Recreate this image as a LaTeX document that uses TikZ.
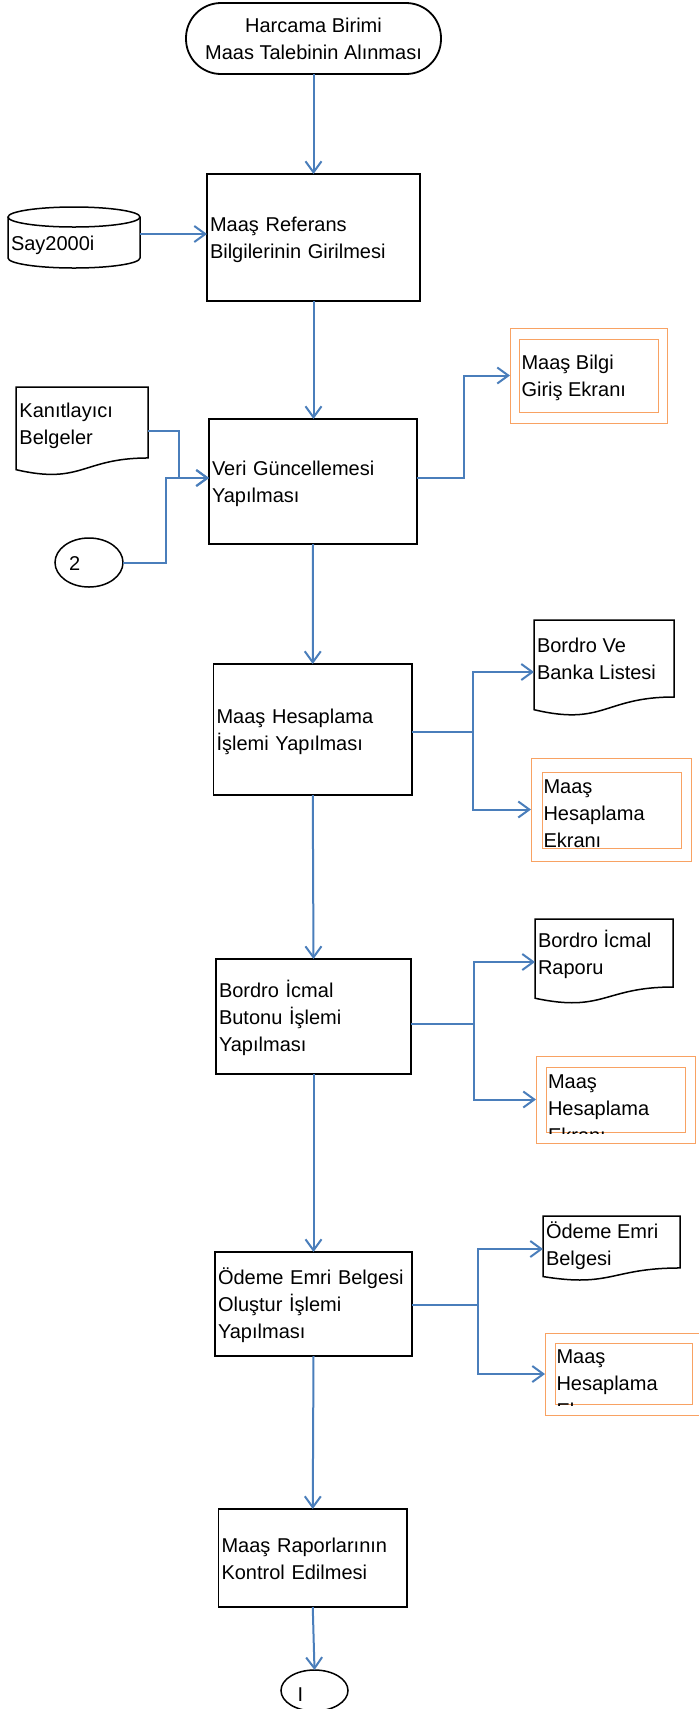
\documentclass[tikz,border=0pt]{standalone}
\usepackage{fontspec}
\setmainfont{Liberation Sans}
\usetikzlibrary{arrows.meta,shapes.geometric}
\definecolor{blueln}{HTML}{4A7EBB}
\definecolor{orng}{HTML}{F8A263}
\newcommand\mytop{\rule{0pt}{20pt}}
\newcommand\mybot{\rule[-4.5pt]{0pt}{4.5pt}}
\newcommand\docpath[4]{%
  \draw[shp] (#1,#2) -- (#3,#2) -- (#3,{#2+0.802*#4})
    .. controls ({(#1+#3)/2},{#2+0.802*#4}) and ({(#1+#3)/2},{#2+1.108*#4}) .. (#1,{#2+0.934*#4}) -- cycle;}
\begin{document}
\begin{tikzpicture}[x=1pt,y=-1pt,
  txt/.style={font=\fontsize{20}{27}\selectfont},
  shp/.style={draw=black, line width=1.5pt},
  proc/.style={draw=black, line width=1.8pt, anchor=north west, align=left, inner xsep=3pt, inner ysep=0pt, outer sep=0pt, txt},
  ghost/.style={draw=none, anchor=north west, inner sep=0pt, outer sep=0pt},
  obox/.style={draw=orng, line width=1pt, anchor=north west, inner sep=0pt, outer sep=0pt},
  oin/.style={draw=orng, line width=1pt},
  ltxt/.style={txt, anchor=north west, align=left, inner sep=0pt, outer sep=0pt},
  btxt/.style={txt, anchor=base west, inner sep=0pt, outer sep=0pt},
  conn/.style={ellipse, draw=black, line width=1.5pt, inner sep=0pt, outer sep=0pt},
  link/.style={draw=blueln, line width=2pt},
  arr/.style={link, -{Straight Barb[length=11pt,width=16pt]}}
]
\useasboundingbox (0,0) rectangle (699,1709);

% terminator
\node[draw=black, line width=1.8pt, rounded corners=35pt, minimum width=255pt, minimum height=71pt,
  anchor=north west, align=center, txt, inner sep=0pt, outer sep=0pt] (t) at (186,3)
  {\mytop Harcama Birimi\\Maas Talebinin Alınması\mybot};

% process boxes
\node[proc, minimum width=213pt, text width=207pt, minimum height=127pt] (b1) at (207,174)
  {\mytop Maaş Referans\\Bilgilerinin Girilmesi\mybot};
\node[proc, minimum width=208pt, text width=202pt, minimum height=125pt] (b2) at (209,419)
  {\mytop Veri Güncellemesi\\Yapılması\mybot};
\node[proc, minimum width=198.5pt, text width=192.5pt, minimum height=131pt] (b3) at (213.5,664)
  {\mytop Maaş Hesaplama\\İşlemi Yapılması\mybot};
\node[proc, minimum width=195pt, text width=189pt, minimum height=115pt] (b4) at (216,959)
  {\mytop Bordro İcmal\\Butonu İşlemi\\Yapılması\mybot};
\node[proc, minimum width=197pt, text width=191pt, minimum height=104pt] (b5) at (215,1252)
  {\mytop Ödeme Emri Belgesi\\Oluştur İşlemi\\Yapılması\mybot};
\node[proc, minimum width=188.5pt, text width=182.5pt, minimum height=98pt] (b6) at (218.5,1509)
  {\mytop Maaş Raporlarının\\Kontrol Edilmesi\mybot};

% cylinder Say2000i
\node[ghost, minimum width=132pt, minimum height=54pt] (cyl) at (8,207) {};
\draw[shp] (8,217) -- (8,258) arc[start angle=180, end angle=360, x radius=66pt, y radius=10pt] -- (140,217);
\draw[shp] (74,217) ellipse[x radius=66pt, y radius=10pt];
\node[btxt] (cyltxt) at (11,250.5) {Say2000i};

% documents
\docpath{16}{387}{148}{88.5}
\node[ghost, minimum width=132pt, minimum height=88pt] (kd) at (16,387) {};
\node[ltxt] (kdt) at (19.5,397) {\mytop Kanıtlayıcı\\Belgeler};

\docpath{534}{620}{674}{96}
\node[ghost, minimum width=140pt, minimum height=104pt] (d1) at (534,620) {};
\node[ltxt] (d1t) at (537,632) {\mytop Bordro Ve\\Banka Listesi};

\docpath{535}{919}{673}{84.8}
\node[ghost, minimum width=138pt, minimum height=86pt] (d2) at (535,919) {};
\node[ltxt] (d2t) at (538,927) {\mytop Bordro İcmal\\Raporu};

\docpath{543}{1216}{680}{64.8}
\node[ghost, minimum width=137pt, minimum height=66pt] (d3) at (543,1216) {};
\node[ltxt] (d3t) at (546,1218) {\mytop Ödeme Emri\\Belgesi};

% orange screen boxes
\node[obox, minimum width=157pt, minimum height=95pt] (o1) at (510,328) {};
\draw[oin] (519,339) rectangle (658,412);
\node[ltxt] (o1t) at (521.5,349) {\mytop Maaş Bilgi\\Giriş Ekranı};

\node[obox, minimum width=160pt, minimum height=103pt] (o2) at (531,758) {};
\draw[oin] (542,772) rectangle (681,848);
\node[ltxt] (o2t) at (543.5,773) {\mytop Maaş\\Hesaplama\\Ekranı};

\node[obox, minimum width=159.5pt, minimum height=87pt] (o3) at (536,1056) {};
\draw[oin] (546.6,1067) rectangle (685.7,1132);
\begin{scope}
\clip (540,1060) rectangle (690,1133);
\node[ltxt] (o3t) at (548,1068) {\mytop Maaş\\Hesaplama\\Ekranı};
\end{scope}

\node[obox, minimum width=158pt, minimum height=82pt] (o4) at (545,1333) {};
\draw[oin] (555,1343) rectangle (692,1404);
\begin{scope}
\clip (550,1336) rectangle (698,1405);
\node[ltxt] (o4t) at (556.5,1343) {\mytop Maaş\\Hesaplama\\Ekranı};
\end{scope}

% connectors (circles)
\node[conn, minimum width=68pt, minimum height=49pt] (c2) at (89,562.5) {};
\node[btxt] (c2t) at (69,570) {2};
\node[conn, minimum width=67pt, minimum height=41pt] (cI) at (314.5,1690.5) {};
\node[btxt] (cIt) at (297.5,1701) {I};

% links
\draw[arr] (t.south) -- (b1.north);
\draw[arr] (cyl.east) -- (cyl.east -| b1.west);
\draw[arr] (b1.south) -- (b1.south |- b2.north);
\draw[arr] (kd.east) -- ++(31,0) |- ([yshift=3.5pt]b2.west);
\draw[arr] (c2.east) -- ++(43,0) |- ([yshift=3.5pt]b2.west);
\draw[arr] ([yshift=3.5pt]b2.east) -- ++(47,0) |- (o1.west);
\draw[arr] (b2.south) -- (b3.north);
\draw[arr] ([yshift=-2.5pt]b3.east) -- ++(60.5,0) coordinate (j3) |- (d1.west);
\draw[arr] (j3) |- (o2.west);
\draw[arr] (b3.south) -- (b4.north);
\draw[arr] ([yshift=-7.5pt]b4.east) -- ++(62.5,0) coordinate (j4) |- (d2.west);
\draw[arr] (j4) |- (o3.west);
\draw[arr] (b4.south) -- (b5.north);
\draw[arr] ([yshift=-1pt]b5.east) -- ++(66,0) coordinate (j5) |- (d3.west);
\draw[arr] (j5) |- (o4.west);
\draw[arr] (b5.south) -- (b6.north);
\draw[arr] (b6.south) -- (cI.north);
\end{tikzpicture}
\end{document}
